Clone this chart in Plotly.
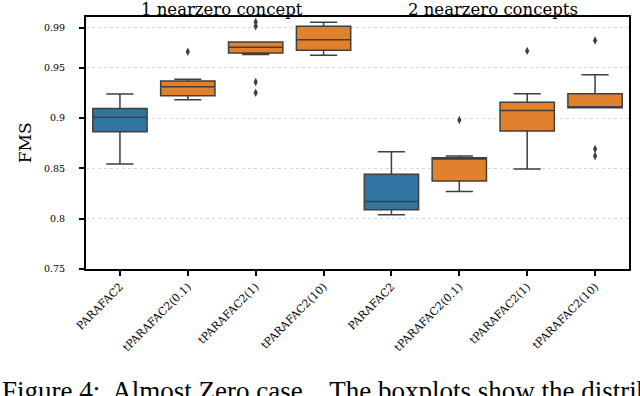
import plotly.graph_objs as go

# Подписи категорий по оси X
tick_labels = ['PARAFAC2', 'tPARAFAC2(0.1)', 'tPARAFAC2(1)', 'tPARAFAC2(10)',
               'PARAFAC2', 'tPARAFAC2(0.1)', 'tPARAFAC2(1)', 'tPARAFAC2(10)']

# Статистики боксплотов: PARAFAC2 (синие)
base_pos = [0, 4]
base_low = [0.8545, 0.8039]
base_q1 = [0.8865, 0.8088]
base_med = [0.9008, 0.8171]
base_q3 = [0.9097, 0.8442]
base_high = [0.924, 0.8667]

# Статистики боксплотов: tPARAFAC2 (оранжевые)
t_pos = [1, 2, 3, 5, 6, 7]
t_low = [0.9183, 0.9633, 0.9626, 0.827, 0.8495, 0.9103]
t_q1 = [0.9222, 0.9649, 0.9676, 0.8376, 0.8872, 0.9103]
t_med = [0.9312, 0.9705, 0.978, 0.8594, 0.9077, 0.911]
t_q3 = [0.937, 0.9758, 0.9914, 0.8607, 0.9157, 0.9242]
t_high = [0.9388, 0.9758, 0.9953, 0.8624, 0.9242, 0.9431]

# Выбросы
out_x = [1, 2, 2, 2, 2, 5, 6, 7, 7, 7]
out_y = [0.966, 0.9956, 0.9914, 0.936, 0.9252, 0.8981, 0.9669, 0.9772, 0.8693, 0.8624]

# Подписи осей и заголовки групп
y_ticks = [0.75, 0.8, 0.85, 0.9, 0.95, 0.99]
y_tick_text = ['0.75', '0.8', '0.85', '0.9', '0.95', '0.99']
group_titles = ['1 nearzero concept', '2 nearzero concepts']
caption = ('Figure 4:&nbsp; Almost Zero case.&nbsp;&nbsp; '
           'The boxplots show the distribution of')

line_col = '#3f3f3f'
serif = 'DejaVu Serif'

fig = go.Figure()
fig.add_trace(go.Box(x=base_pos, q1=base_q1, median=base_med, q3=base_q3,
                     lowerfence=base_low, upperfence=base_high,
                     fillcolor='#3274a1', line=dict(color=line_col, width=1.5),
                     width=0.8, whiskerwidth=0.5, boxpoints=False, showlegend=False))
fig.add_trace(go.Box(x=t_pos, q1=t_q1, median=t_med, q3=t_q3,
                     lowerfence=t_low, upperfence=t_high,
                     fillcolor='#e1812c', line=dict(color=line_col, width=1.5),
                     width=0.8, whiskerwidth=0.5, boxpoints=False, showlegend=False))
fig.add_trace(go.Scatter(x=out_x, y=out_y, mode='markers', showlegend=False,
                         marker=dict(symbol='diamond-tall', size=6, color=line_col)))

fig.update_layout(width=640, height=396, margin=dict(l=86, r=9, t=17, b=127),
                  plot_bgcolor='white', paper_bgcolor='white', boxmode='overlay',
                  font=dict(family=serif, color='black'))
fig.update_xaxes(range=[-0.5, 7.5], tickmode='array', tickvals=list(range(8)),
                 ticktext=tick_labels, tickangle=-45, tickfont=dict(size=11),
                 showgrid=False, zeroline=False, showline=True, mirror=True,
                 linecolor='black', linewidth=2, ticks='outside', ticklen=5,
                 tickwidth=1.6, tickcolor='black')
fig.update_yaxes(range=[0.75, 1.0006], tickmode='array', tickvals=y_ticks,
                 ticktext=y_tick_text, tickfont=dict(size=9.5), ticklabelstandoff=12,
                 showgrid=True, gridcolor='#d9d9d9', griddash='dot', gridwidth=0.8,
                 zeroline=False, showline=True, mirror=True,
                 linecolor='black', linewidth=2, ticks='outside', ticklen=5,
                 tickwidth=1.6, tickcolor='black')

# Заголовки групп над графиком
for i, title in enumerate(group_titles):
    fig.add_annotation(text=title, xref='paper', yref='paper', x=0.25 + 0.5 * i, y=1,
                       xanchor='center', yanchor='bottom', showarrow=False, yshift=-3,
                       borderpad=0, font=dict(size=16.5, family=serif))

# Подпись оси Y
fig.add_annotation(text='FMS', xref='paper', yref='paper', x=-0.112, y=0.5,
                   xanchor='center', yanchor='middle', textangle=-90, showarrow=False,
                   font=dict(size=17, family=serif))

# Подпись рисунка
fig.add_annotation(text=caption, xref='paper', yref='paper', x=-0.158, y=-0.415,
                   xanchor='left', yanchor='top', showarrow=False,
                   font=dict(size=27, family='Liberation Serif'))

# убираем стандартный отступ body, чтобы фигура встала в угол окна
fig.write_html("out.html", config={'displayModeBar': False},
               post_script="document.body.style.margin = '0px';")
